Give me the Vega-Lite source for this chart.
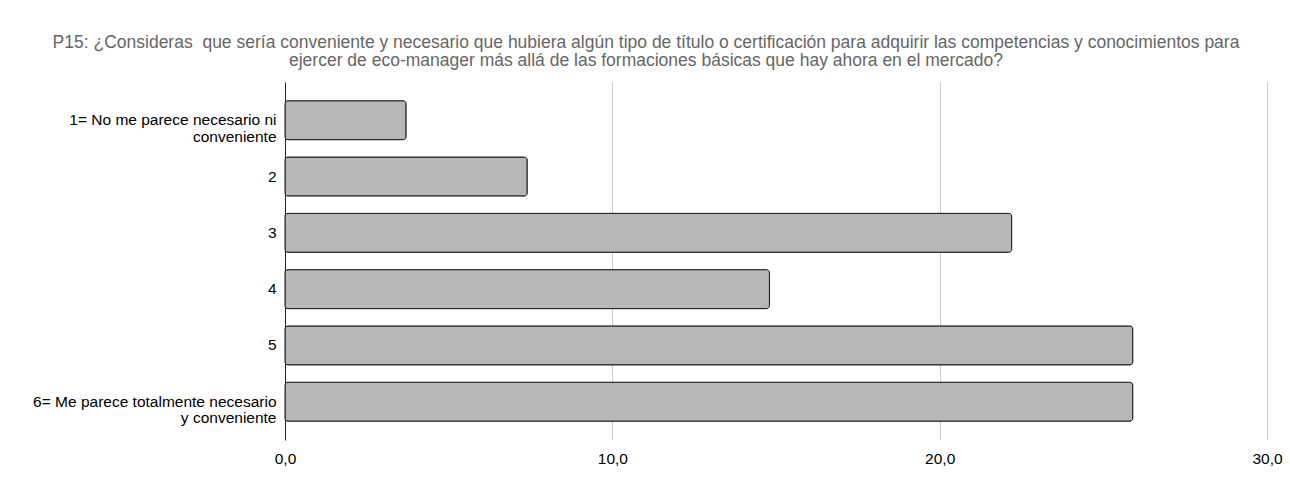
{
  "$schema": "https://vega.github.io/schema/vega-lite/v6.json",
  "width": 982,
  "height": 358,
  "autosize": {"type": "none"},
  "padding": {"left": 285, "top": 82, "right": 23, "bottom": 42},
  "background": "#ffffff",
  "title": {
    "text": ["P15: ¿Consideras\u00a0 que sería conveniente y necesario que hubiera algún tipo de título o certificación para adquirir las competencias y conocimientos para", "ejercer de eco-manager más allá de las formaciones básicas que hay ahora en el mercado?"],
    "anchor": "middle",
    "frame": "group",
    "dx": -130,
    "offset": 13,
    "font": "Liberation Sans",
    "fontSize": 17.5,
    "fontWeight": "normal",
    "color": "#666666",
    "lineHeight": 18
  },
  "data": {
    "values": [
      {"respuesta": "1= No me parece necesario ni conveniente", "porcentaje": 3.7},
      {"respuesta": "2", "porcentaje": 7.4},
      {"respuesta": "3", "porcentaje": 22.2},
      {"respuesta": "4", "porcentaje": 14.8},
      {"respuesta": "5", "porcentaje": 25.9},
      {"respuesta": "6= Me parece totalmente necesario y conveniente", "porcentaje": 25.9}
    ]
  },
  "mark": {
    "type": "bar",
    "fill": "#b7b7b7",
    "stroke": "#1a1a1a",
    "strokeWidth": 1,
    "cornerRadius": 3
  },
  "encoding": {
    "y": {
      "field": "respuesta",
      "type": "nominal",
      "sort": null,
      "title": null,
      "scale": {"paddingInner": 0.307, "paddingOuter": 0.333},
      "axis": {
        "ticks": false,
        "labelPadding": 9,
        "labelFont": "Liberation Sans",
        "labelFontSize": 15.5,
        "labelColor": "#000000",
        "labelLimit": 300,
        "labelLineHeight": 16.5,
        "domainColor": "#222222",
        "domainWidth": 1,
        "grid": false,
        "labelExpr": "datum.value == '1= No me parece necesario ni conveniente' ? ['1= No me parece necesario ni', 'conveniente'] : datum.value == '6= Me parece totalmente necesario y conveniente' ? ['6= Me parece totalmente necesario', 'y conveniente'] : datum.value"
      }
    },
    "x": {
      "field": "porcentaje",
      "type": "quantitative",
      "title": null,
      "scale": {"domain": [0, 30], "nice": false},
      "axis": {
        "values": [0, 10, 20, 30],
        "domain": false,
        "ticks": false,
        "grid": true,
        "gridColor": "#cccccc",
        "gridWidth": 1,
        "labelFlush": false,
        "labelPadding": 11,
        "labelFont": "Liberation Sans",
        "labelFontSize": 15.5,
        "labelColor": "#000000",
        "labelExpr": "replace(format(datum.value, '.1f'), '.', ',')"
      }
    }
  },
  "config": {"view": {"stroke": null}}
}
